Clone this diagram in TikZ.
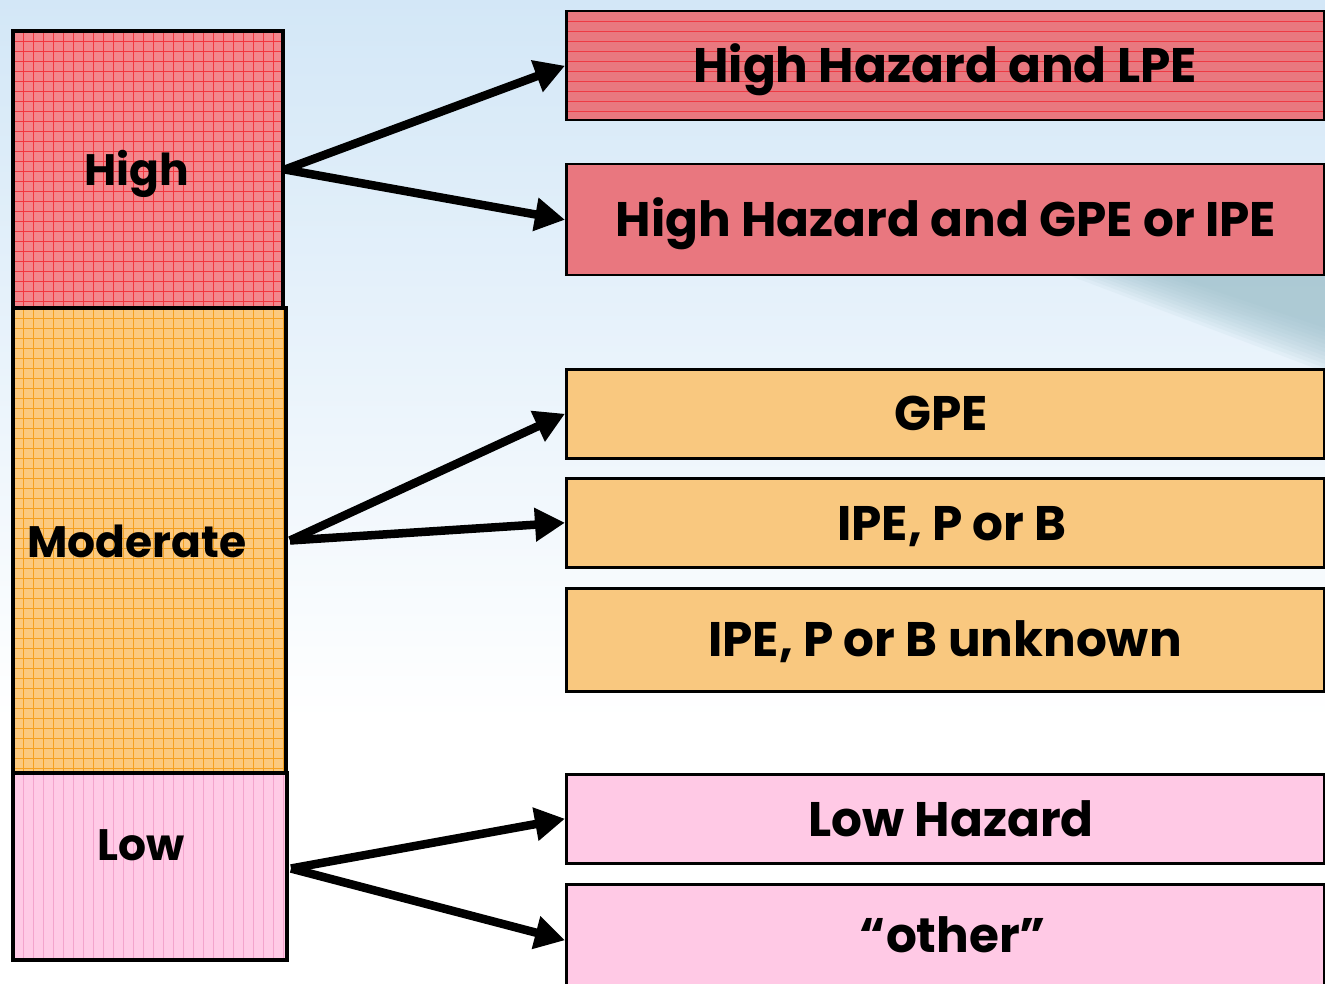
\documentclass[tikz,border=0pt]{standalone}
\usepackage{fontspec}
\setmainfont{Poppins}
\usetikzlibrary{arrows.meta}
\definecolor{bgtop}{HTML}{D3E7F7}
\definecolor{swoosh}{HTML}{98BCC8}
\definecolor{highfill}{HTML}{F3878D}
\definecolor{highline}{HTML}{F2363E}
\definecolor{modfill}{HTML}{FBC97F}
\definecolor{modline}{HTML}{F5A020}
\definecolor{lowfill}{HTML}{FFCAE6}
\definecolor{lowline}{HTML}{F3A3CC}
\definecolor{rredA}{HTML}{E9787F}
\definecolor{rredline}{HTML}{EE3A44}
\definecolor{rredB}{HTML}{E9777F}
\definecolor{rorange}{HTML}{F9C87F}
\definecolor{rpink}{HTML}{FFC9E5}
\tikzset{
  lbox/.style={draw=black, line width=4, rectangle, inner sep=0, anchor=north west},
  rbox/.style={draw=black, line width=2.5, rectangle, inner sep=0, anchor=north west, minimum width=758},
  llbl/.style={font=\bfseries\fontsize{44}{52}\selectfont, text=black, anchor=base, inner sep=0},
  rlbl/.style={font=\bfseries\fontsize{48.5}{56}\selectfont, text=black, anchor=base, inner sep=0},
  arr/.style={line width=8.5, -{Triangle[length=30,width=32]}},
  vlines/.style={path picture={\foreach \i in {0,10,...,300}
      \draw[#1, line width=0.8] ([xshift=\i]path picture bounding box.north west) -- ([xshift=\i]path picture bounding box.south west);}},
  hlines/.style={path picture={\foreach \i in {0,10,...,480}
      \draw[#1, line width=0.8] ([yshift=-\i]path picture bounding box.north west) -- ([yshift=-\i]path picture bounding box.north east);}},
  gridlines/.style={path picture={\foreach \i in {0,10,...,300}
      \draw[#1, line width=0.8] ([xshift=\i]path picture bounding box.north west) -- ([xshift=\i]path picture bounding box.south west);
      \foreach \i in {0,10,...,480}
      \draw[#1, line width=0.8] ([yshift=-\i]path picture bounding box.north west) -- ([yshift=-\i]path picture bounding box.north east);}},
}
\begin{document}
\begin{tikzpicture}[x=1pt,y=-1pt]
\useasboundingbox (0,0) rectangle (1325,984);
% background
\fill[white] (0,0) rectangle (1325,984);
\shade[top color=bgtop, bottom color=white] (0,0) rectangle (1325,720);
\foreach \k in {0,...,11}
  \fill[swoosh, opacity=0.09] ({1060+\k*9},272) -- (1325,272) -- (1325,{372-\k*4}) -- cycle;

% left boxes
\node[lbox, fill=highfill, gridlines={highline}, minimum width=270, minimum height=277] (high) at (11,29) {};
\node[lbox, fill=modfill, gridlines={modline}, minimum width=273, minimum height=465] (mod) at (11,306) {};
\node[lbox, fill=lowfill, vlines={lowline}, minimum width=274, minimum height=187] (low) at (11,771) {};
\node[llbl] at (137,186) {High};
\node[llbl] at (137,557) {Moderate};
\node[llbl] at (141,860) {Low};

% right boxes
\node[rbox, fill=rredA, hlines={rredline}, minimum height=109] (hh1) at (565,10) {};
\node[rbox, fill=rredB, minimum height=111] (hh2) at (565,163) {};
\node[rbox, fill=rorange, minimum height=89] (gpe) at (565,368) {};
\node[rbox, fill=rorange, minimum height=89] (ipe) at (565,477) {};
\node[rbox, fill=rorange, minimum height=103] (unk) at (565,587) {};
\node[rbox, fill=rpink, minimum height=89] (lh) at (565,773) {};
\node[rbox, fill=rpink, minimum height=110] (oth) at (565,883) {};

\node[rlbl] at (945,83) {High Hazard and LPE};
\node[rlbl] at (946,237) {High Hazard and GPE or IPE};
\node[rlbl] at (941,430) {GPE};
\node[rlbl] at (952,540) {IPE, P or B};
\node[rlbl] at (945,656) {IPE, P or B unknown};
\node[rlbl] at (951,836) {Low Hazard};
\node[rlbl] at (953,952) {“other”};

% arrows
\draw[arr] (high.east) -- (hh1.west);
\draw[arr] (high.east) -- (hh2.west);
\draw[arr] ([xshift=2]mod.east) -- (gpe.west);
\draw[arr] ([xshift=2]mod.east) -- (ipe.west);
\draw[arr] ([xshift=2,yshift=-2]low.east) -- (lh.west);
\draw[arr] ([xshift=2,yshift=-2]low.east) -- ([yshift=-1]oth.west);
\end{tikzpicture}
\end{document}
